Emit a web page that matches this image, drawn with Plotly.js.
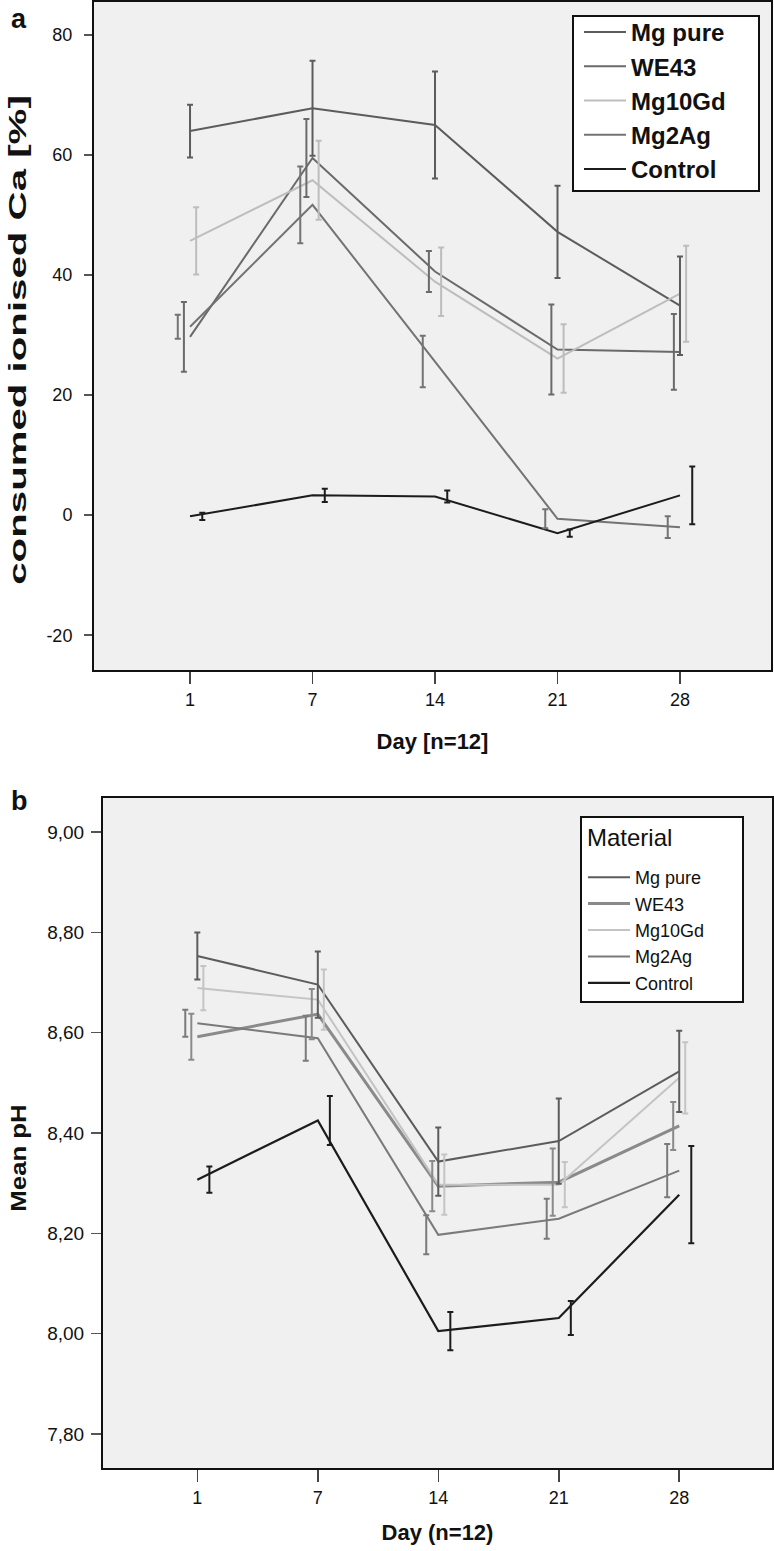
<!DOCTYPE html>
<html>
<head>
<meta charset="utf-8">
<script src="https://cdn.plot.ly/plotly-3.0.1.min.js"></script>
<style>html,body{margin:0;padding:0;background:#fff;}#chart{width:774px;height:1551px;}</style>
</head>
<body>
<div id="chart"></div>
<script>
// ---------- data ----------
const days = ['1', '7', '14', '21', '28'];
const seriesNames = ['Mg pure', 'WE43', 'Mg10Gd', 'Mg2Ag', 'Control'];
const legendTitleB = 'Material';

// Panel a: consumed ionised Ca [%] (means and error half-widths)
const caMgPure     = [64.0, 67.8, 65.0, 47.2, 34.9];
const caMgPureErr  = [4.4, 7.9, 8.9, 7.7, 8.2];
const caWE43       = [29.7, 59.5, 40.6, 27.6, 27.2];
const caWE43Err    = [5.8, 6.5, 3.4, 7.5, 6.3];
const caMg10Gd     = [45.7, 55.8, 38.9, 26.1, 36.9];
const caMg10GdErr  = [5.6, 6.6, 5.7, 5.7, 8.0];
const caMg2Ag      = [31.4, 51.7, 25.6, -0.6, -2.0];
const caMg2AgErr   = [2.0, 6.4, 4.3, 1.6, 1.8];
const caControl    = [-0.2, 3.3, 3.1, -3.0, 3.3];
const caControlErr = [0.6, 1.1, 1.0, 0.6, 4.8];

// Panel b: mean pH
const phMgPure     = [8.753, 8.696, 8.343, 8.384, 8.523];
const phMgPureErr  = [0.047, 0.066, 0.068, 0.085, 0.081];
const phWE43       = [8.592, 8.637, 8.294, 8.302, 8.414];
const phWE43Err    = [0.046, 0.050, 0.050, 0.067, 0.048];
const phMg10Gd     = [8.689, 8.666, 8.297, 8.297, 8.510];
const phMg10GdErr  = [0.044, 0.060, 0.060, 0.045, 0.071];
const phMg2Ag      = [8.619, 8.589, 8.197, 8.229, 8.325];
const phMg2AgErr   = [0.027, 0.045, 0.039, 0.040, 0.053];
const phControl    = [8.307, 8.425, 8.005, 8.031, 8.277];
const phControlErr = [0.026, 0.049, 0.038, 0.034, 0.097];

const caTickVals = [-20, 0, 20, 40, 60, 80];
const caTickText = ['-20', '0', '20', '40', '60', '80'];
const phTickVals = [7.8, 8.0, 8.2, 8.4, 8.6, 8.8, 9.0];
const phTickText = ['7,80', '8,00', '8,20', '8,40', '8,60', '8,80', '9,00'];

// ---------- styles ----------
const W = 774, H = 1551;
const FONT = 'Liberation Sans, Arial, sans-serif';
const colorsA = ['#5c5c5c', '#6a6a6a', '#bdbdbd', '#737373', '#1c1c1c'];
const colorsB = ['#5c5c5c', '#8a8a8a', '#c4c4c4', '#7a7a7a', '#1c1c1c'];
const widthsB = [2, 3, 2, 2, 2.2];
// dodge of error bars (in category units): Mg pure, WE43, Mg10Gd, Mg2Ag, Control
const dodge = [0, -0.05, 0.05, -0.1, 0.1];

const idx = days.map((d, i) => i);

const panelA = [
  [caMgPure, caMgPureErr], [caWE43, caWE43Err], [caMg10Gd, caMg10GdErr],
  [caMg2Ag, caMg2AgErr], [caControl, caControlErr]
];
const panelB = [
  [phMgPure, phMgPureErr], [phWE43, phWE43Err], [phMg10Gd, phMg10GdErr],
  [phMg2Ag, phMg2AgErr], [phControl, phControlErr]
];

const traces = [];
function addPanel(panel, xa, ya, legendId, colors, widths) {
  panel.forEach(([vals, errs], s) => {
    traces.push({
      type: 'scatter', mode: 'lines', name: seriesNames[s],
      x: idx, y: vals, xaxis: xa, yaxis: ya, legend: legendId,
      line: {color: colors[s], width: widths ? widths[s] : 2},
      hoverinfo: 'skip'
    });
  });
  panel.forEach(([vals, errs], s) => {
    traces.push({
      type: 'scatter', mode: 'markers', name: seriesNames[s], showlegend: false,
      x: idx.map(i => i + dodge[s]), y: vals, xaxis: xa, yaxis: ya,
      marker: {size: 1, opacity: 0, color: colors[s]},
      error_y: {type: 'data', array: errs, visible: true, color: colors[s], thickness: 2, width: 3},
      hoverinfo: 'skip'
    });
  });
}
addPanel(panelA, 'x', 'y', 'legend', colorsA, null);
addPanel(panelB, 'x2', 'y2', 'legend2', colorsB, widthsB);

const px = v => v / W;
const py = v => 1 - v / H;

const commonX = {
  tickmode: 'array', tickvals: idx, ticktext: days,
  showline: true, mirror: true, linecolor: '#111', linewidth: 2,
  ticks: 'outside', ticklen: 12, tickwidth: 1.5, tickcolor: '#444',
  showgrid: false, zeroline: false, fixedrange: true,
  tickfont: {family: FONT, size: 18, color: '#111'}
};
const commonY = {
  tickmode: 'array',
  showline: true, mirror: true, linecolor: '#111', linewidth: 2,
  ticks: 'outside', ticklen: 8, tickwidth: 1.5, tickcolor: '#555',
  showgrid: false, zeroline: false, fixedrange: true,
  tickfont: {family: FONT, size: 18, color: '#111'}
};

// legend frame boxes (paper coords)
const legendBox = (x0, y0, x1, y1) => ({
  type: 'rect', xref: 'paper', yref: 'paper', layer: 'above',
  x0: px(x0), x1: px(x1), y0: py(y1), y1: py(y0),
  fillcolor: '#ffffff', line: {color: '#111', width: 2}
});

const layout = {
  width: W, height: H, autosize: false,
  margin: {l: 0, r: 0, t: 0, b: 0},
  paper_bgcolor: '#ffffff', plot_bgcolor: '#f0f0f0',
  font: {family: FONT, color: '#111'},
  xaxis: Object.assign({}, commonX, {
    domain: [px(94), px(771)], anchor: 'y', range: [-0.784, 4.743],
    title: {text: 'Day [n=12]', standoff: 25, font: {family: FONT, size: 22, weight: 'bold', color: '#111'}}
  }),
  yaxis: Object.assign({}, commonY, {
    domain: [py(670), py(2)], anchor: 'x', range: [-25.8, 85.5],
    tickvals: caTickVals, ticktext: caTickText, ticklabelstandoff: 8,
    title: {text: 'consumed ionised Ca [%]', standoff: 13, font: {family: FONT, size: 23, weight: 'bold', color: '#111'}}
  }),
  xaxis2: Object.assign({}, commonX, {
    domain: [px(103), px(772)], anchor: 'y2', range: [-0.783, 4.77],
    title: {text: 'Day (n=12)', standoff: 18, font: {family: FONT, size: 22, weight: 'bold', color: '#111'}}
  }),
  yaxis2: Object.assign({}, commonY, {
    domain: [py(1468), py(798)], anchor: 'x2', range: [7.732, 9.068],
    tickvals: phTickVals, ticktext: phTickText, ticklen: 10, ticklabelstandoff: 3,
    tickfont: {family: FONT, size: 19, color: '#111'},
    title: {text: 'Mean pH', standoff: 14, font: {family: FONT, size: 23, weight: 'bold', color: '#111'}}
  }),
  shapes: [legendBox(573, 16, 759, 191), legendBox(581, 817, 743, 1002)],
  legend: {
    x: px(579), y: py(10), xanchor: 'left', yanchor: 'top',
    bgcolor: 'rgba(0,0,0,0)', borderwidth: 0,
    font: {family: FONT, size: 24, weight: 'bold', color: '#111'},
    itemwidth: 42, tracegroupgap: 0
  },
  legend2: {
    x: px(583), y: py(859), xanchor: 'left', yanchor: 'top',
    bgcolor: 'rgba(0,0,0,0)', borderwidth: 0,
    font: {family: FONT, size: 18, color: '#111'},
    itemwidth: 42, tracegroupgap: 0
  },
  annotations: [
    {text: 'a', xref: 'paper', yref: 'paper', x: px(9), y: py(19), xanchor: 'left', yanchor: 'middle', showarrow: false, font: {family: FONT, size: 27, weight: 'bold', color: '#111'}},
    {text: 'b', xref: 'paper', yref: 'paper', x: px(9), y: py(801), xanchor: 'left', yanchor: 'middle', showarrow: false, font: {family: FONT, size: 27, weight: 'bold', color: '#111'}},
    {text: legendTitleB, xref: 'paper', yref: 'paper', x: px(585), y: py(837), xanchor: 'left', yanchor: 'middle', showarrow: false, font: {family: FONT, size: 24, color: '#111'}}
  ],
  showlegend: true
};

// stretch a rotated axis title along its length (the reference figure is vertically stretched)
function stretch(el, sy, dy) {
  if (!el) return;
  const x = +el.getAttribute('x'), y = +el.getAttribute('y');
  const tr = el.getAttribute('transform') || '';
  el.setAttribute('transform',
    'translate(0,' + dy + ') translate(' + x + ',' + y + ') scale(1,' + sy + ') translate(' + (-x) + ',' + (-y) + ') ' + tr);
}

Plotly.newPlot('chart', traces, layout, {displayModeBar: false, staticPlot: true}).then(gd => {
  stretch(gd.querySelector('text.ytitle'), 1.75, 4);
  stretch(gd.querySelector('text.y2title'), 1.12, 25);
});
</script>
</body>
</html>
